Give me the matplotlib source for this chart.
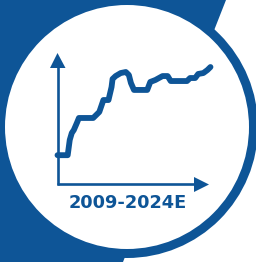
import matplotlib.pyplot as plt
from matplotlib.patches import Polygon, Circle

BLUE = '#0e5597'

# step-like growth line, 2009 -> 2024E (index, 0-100 scale)
years = [2009.0, 2010.0, 2010.2, 2010.4, 2010.6, 2010.9, 2011.1, 2012.5, 2012.8,
         2013.1, 2013.4, 2013.5, 2014.0, 2014.3, 2014.4, 2014.7, 2015.2, 2015.7,
         2016.0, 2016.2, 2016.5, 2017.8, 2018.1, 2018.6, 2019.3, 2019.8, 2020.1,
         2021.7, 2022.0, 2022.5, 2022.8, 2023.3, 2023.7, 2024.0]
values = [22, 22, 33.6, 38.9, 41.2, 46.6, 50.4, 50.4, 52.7,
          55, 61.8, 64.1, 64.1, 74, 80.2, 82.4, 84.7, 85.5,
          83.2, 77.1, 71.8, 71.8, 77.9, 79.4, 82.4, 82.4, 78.6,
          78.6, 80.9, 80.9, 84, 84.7, 87, 89.3]
label = '2009-2024E'

fig = plt.figure(figsize=(2.56, 2.62), dpi=100)

# background shapes (pixel coordinates)
bg = fig.add_axes([0, 0, 1, 1])
bg.set_xlim(0, 256)
bg.set_ylim(262, 0)
bg.axis('off')
bg.add_patch(Polygon([(0, 0), (226, 0), (123, 262), (0, 262)], fc=BLUE, ec='none'))
bg.add_patch(Circle((127, 127), 131, fc=BLUE, ec='none'))
bg.add_patch(Circle((127, 127), 122, fc='white', ec='none'))

# axis arrows
bg.plot([57.5, 57.5], [185, 66], color=BLUE, lw=1.9, solid_capstyle='butt')
bg.add_patch(Polygon([(57.5, 53), (50, 68), (65.5, 68)], fc=BLUE, ec='none'))
bg.plot([56.5, 196], [184, 184], color=BLUE, lw=1.9, solid_capstyle='butt')
bg.add_patch(Polygon([(209, 184.5), (194, 177), (194, 192)], fc=BLUE, ec='none'))

bg.text(127.5, 208, label, ha='center', va='baseline', fontsize=12.8,
        fontweight='heavy', color=BLUE)

# the data line
ax = fig.add_axes([57.5 / 256, 78 / 262, 155 / 256, 131 / 262])
ax.plot(years, values, color=BLUE, lw=4.2, solid_joinstyle='round',
        solid_capstyle='round', clip_on=False)
ax.set_xlim(2009, 2024.2)
ax.set_ylim(0, 100)
ax.axis('off')

fig.savefig('out.png', dpi=100)
